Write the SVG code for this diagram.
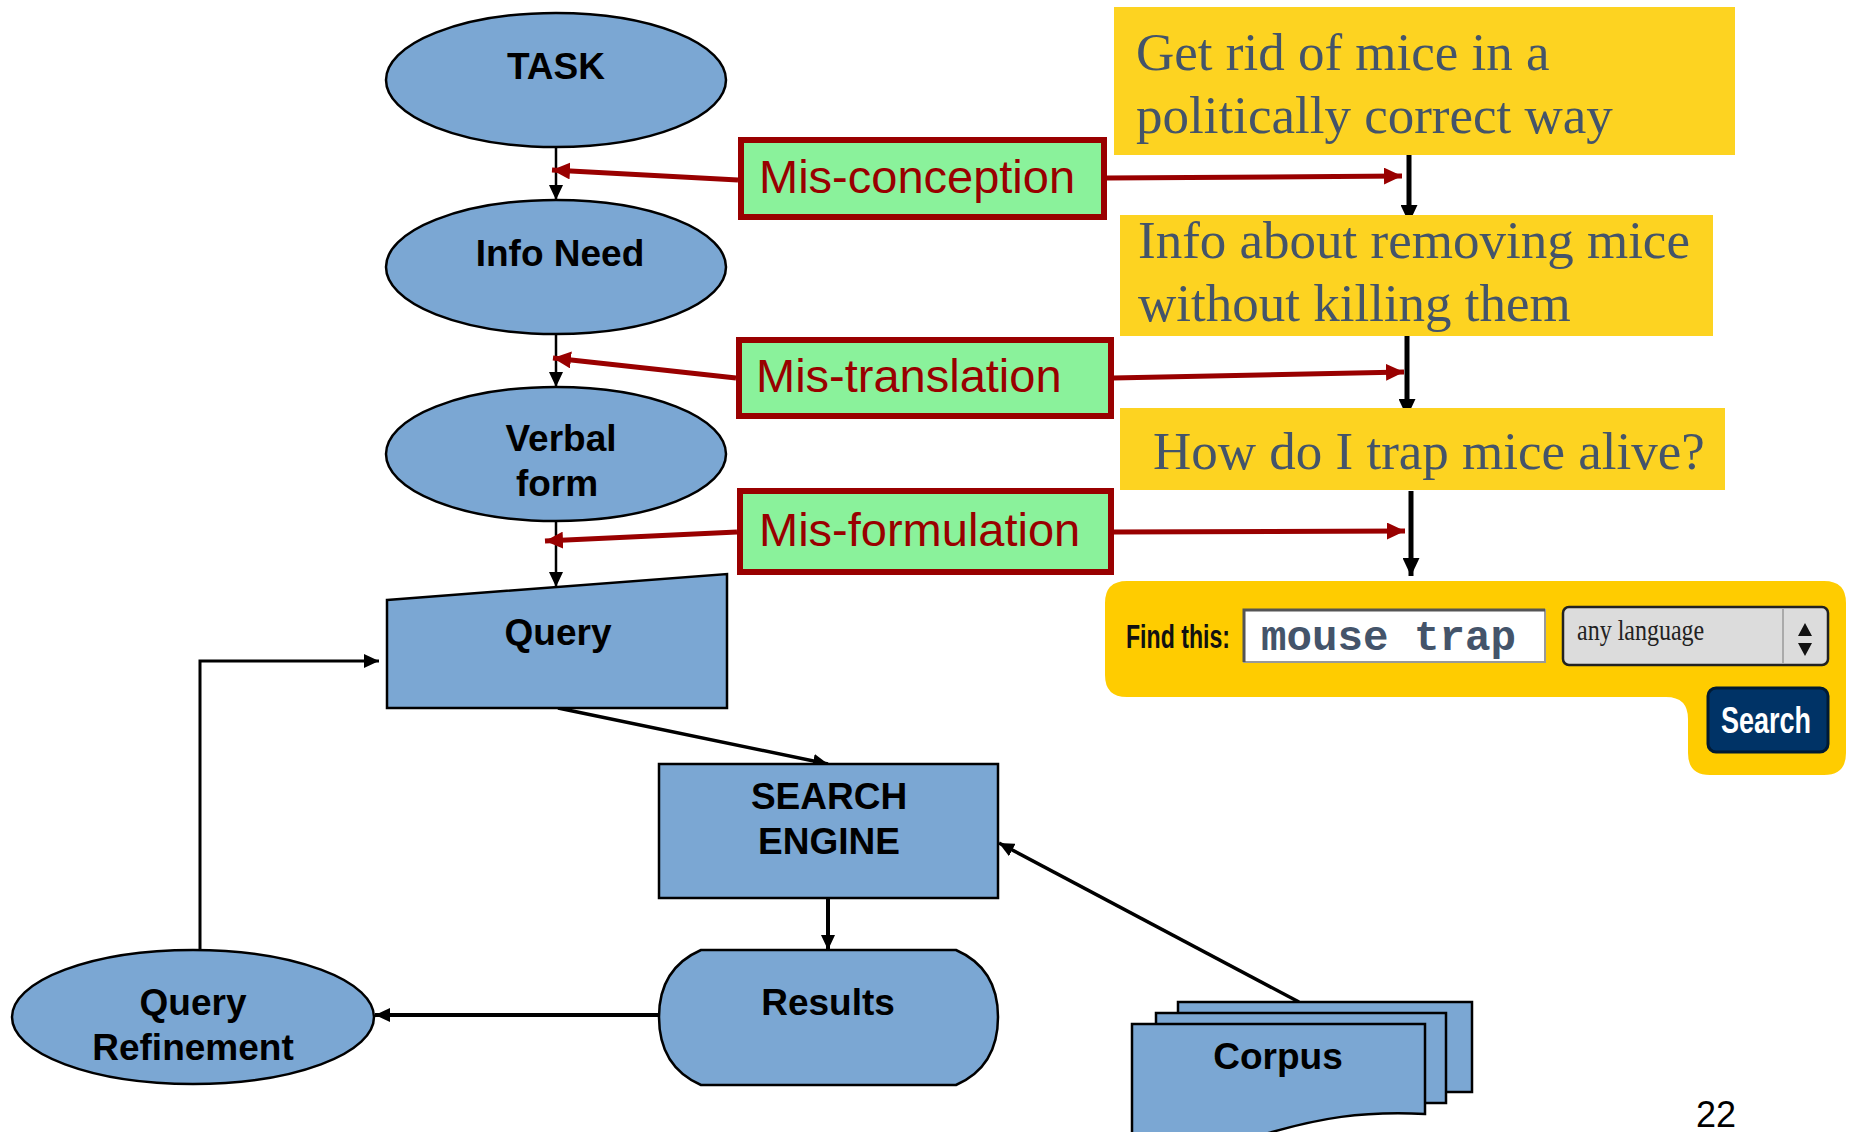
<svg xmlns="http://www.w3.org/2000/svg" width="1852" height="1132" viewBox="0 0 1852 1132">
<style>
.node{fill:#7ba7d3;stroke:#000;stroke-width:2.5}
.lbl{font-family:"Liberation Sans",Arial,sans-serif;font-weight:bold;font-size:37px;fill:#000;text-anchor:middle}
.mis{fill:#8af29b;stroke:#990000;stroke-width:6}
.mist{font-family:"Liberation Sans",Arial,sans-serif;font-size:47px;fill:#990000}
.yb{fill:#fdd321}
.yt{font-family:"Liberation Serif","Times New Roman",serif;font-size:53px;fill:#44546a}
.blk{fill:none;stroke:#000}
.red{fill:none;stroke:#990000;stroke-width:5}
</style>
<defs>
<marker id="as" viewBox="0 0 15 14" refX="15" refY="7" markerWidth="15" markerHeight="14" markerUnits="userSpaceOnUse" orient="auto"><path d="M0,0 L15,7 L0,14 z" fill="#000"/></marker>
<marker id="am" viewBox="0 0 18 17" refX="18" refY="8.5" markerWidth="18" markerHeight="17" markerUnits="userSpaceOnUse" orient="auto"><path d="M0,0 L18,8.5 L0,17 z" fill="#000"/></marker>
<marker id="ar" viewBox="0 0 18 17" refX="18" refY="8.5" markerWidth="18" markerHeight="17" markerUnits="userSpaceOnUse" orient="auto"><path d="M0,0 L18,8.5 L0,17 z" fill="#990000"/></marker>
</defs>

<g id="connectors">
<line class="blk" stroke-width="2.5" x1="556" y1="148" x2="556" y2="200" marker-end="url(#as)"/>
<line class="blk" stroke-width="2.5" x1="556" y1="334" x2="556" y2="387" marker-end="url(#as)"/>
<line class="blk" stroke-width="2.5" x1="556" y1="521" x2="556" y2="587" marker-end="url(#as)"/>
<line class="red" x1="738" y1="180" x2="552" y2="170" marker-end="url(#ar)"/>
<line class="red" x1="1107" y1="178" x2="1402" y2="176" marker-end="url(#ar)"/>
<line class="red" x1="736" y1="378" x2="553" y2="358" marker-end="url(#ar)"/>
<line class="red" x1="1113" y1="378" x2="1404" y2="372" marker-end="url(#ar)"/>
<line class="red" x1="737" y1="532" x2="545" y2="541" marker-end="url(#ar)"/>
<line class="red" x1="1114" y1="532" x2="1405" y2="531" marker-end="url(#ar)"/>
<line class="blk" stroke-width="5" x1="1409" y1="151" x2="1409" y2="223" marker-end="url(#am)"/>
<line class="blk" stroke-width="5" x1="1407" y1="332" x2="1407" y2="417" marker-end="url(#am)"/>
<line class="blk" stroke-width="5" x1="1411" y1="491" x2="1411" y2="576" marker-end="url(#am)"/>
<line class="blk" stroke-width="3.5" x1="558" y1="708" x2="828" y2="764" marker-end="url(#as)"/>
<line class="blk" stroke-width="4" x1="828" y1="898" x2="828" y2="950" marker-end="url(#as)"/>
<line class="blk" stroke-width="4" x1="659" y1="1015" x2="375" y2="1015" marker-end="url(#as)"/>
<polyline class="blk" stroke-width="3" points="200,951 200,661 379,661" marker-end="url(#as)"/>
<line class="blk" stroke-width="3.5" x1="1299" y1="1002" x2="999" y2="843" marker-end="url(#as)"/>
</g>

<g id="task"><ellipse class="node" cx="556" cy="80" rx="170" ry="67"/><text class="lbl" x="556" y="79">TASK</text></g>
<g id="info-need"><ellipse class="node" cx="556" cy="267" rx="170" ry="67"/><text class="lbl" x="560" y="266">Info Need</text></g>
<g id="verbal-form"><ellipse class="node" cx="556" cy="454" rx="170" ry="67"/><text class="lbl" x="561" y="451">Verbal</text><text class="lbl" x="557" y="496">form</text></g>
<g id="query"><path class="node" d="M387,600 L727,574 L727,708 L387,708 Z"/><text class="lbl" x="558" y="645">Query</text></g>
<g id="search-engine"><rect class="node" x="659" y="764" width="339" height="134"/><text class="lbl" x="829" y="809">SEARCH</text><text class="lbl" x="829" y="854">ENGINE</text></g>
<g id="results"><path class="node" d="M701,950 H956 C988,964 998,990 998,1017 C998,1045 988,1071 956,1085 H701 C669,1071 659,1045 659,1017 C659,990 669,964 701,950 Z"/><text class="lbl" x="828" y="1015">Results</text></g>
<g id="query-refinement"><ellipse class="node" cx="193" cy="1017" rx="181" ry="67"/><text class="lbl" x="193" y="1015">Query</text><text class="lbl" x="193" y="1060">Refinement</text></g>
<g id="corpus">
<rect class="node" x="1178" y="1002" width="294" height="90"/>
<rect class="node" x="1156" y="1013" width="290" height="90"/>
<path class="node" d="M1132,1024 H1425 V1114 C1360,1111 1320,1118 1265,1134 L1132,1140 Z"/>
<text class="lbl" x="1278" y="1069">Corpus</text>
</g>

<g id="mis-conception"><rect class="mis" x="741" y="140" width="363" height="77"/><text class="mist" x="759" y="193">Mis-conception</text></g>
<g id="mis-translation"><rect class="mis" x="739" y="340" width="372" height="76"/><text class="mist" x="756" y="392">Mis-translation</text></g>
<g id="mis-formulation"><rect class="mis" x="740" y="491" width="371" height="81"/><text class="mist" x="759" y="546">Mis-formulation</text></g>

<g id="goal-task"><rect class="yb" x="1114" y="7" width="621" height="148"/><text class="yt" x="1136" y="70">Get rid of mice in a</text><text class="yt" x="1136" y="133">politically correct way</text></g>
<g id="goal-info"><rect class="yb" x="1120" y="215" width="593" height="121"/><text class="yt" x="1138" y="258">Info about removing mice</text><text class="yt" x="1138" y="321">without killing them</text></g>
<g id="goal-verbal"><rect class="yb" x="1120" y="408" width="605" height="82"/><text class="yt" x="1153" y="469">How do I trap mice alive?</text></g>

<g id="search-widget">
<path fill="#ffcc00" d="M1127,581 H1824 Q1846,581 1846,603 V753 Q1846,775 1824,775 H1710 Q1688,775 1688,753 V719 Q1688,697 1666,697 H1127 Q1105,697 1105,675 V603 Q1105,581 1127,581 Z"/>
<text transform="translate(1126,648) scale(0.68,1)" font-family="'Liberation Sans',Arial,sans-serif" font-weight="bold" font-size="34" fill="#111">Find this:</text>
<rect x="1244" y="610" width="301" height="52" fill="#fff" stroke="#999" stroke-width="2"/>
<path d="M1244,662 V610 H1545" fill="none" stroke="#555" stroke-width="3"/>
<text x="1261" y="650" font-family="'Liberation Mono','Courier New',monospace" font-weight="bold" font-size="42" fill="#44546a" textLength="255" lengthAdjust="spacingAndGlyphs">mouse trap</text>
<rect x="1563" y="607" width="265" height="58" rx="6" fill="#dcdcdc" stroke="#222" stroke-width="2.5"/>
<line x1="1783" y1="609" x2="1783" y2="663" stroke="#aaa" stroke-width="2"/>
<text transform="translate(1577,640) scale(0.8,1)" font-family="'Liberation Serif','Times New Roman',serif" font-size="30" fill="#222">any language</text>
<path d="M1798,636 L1805,623 L1812,636 Z M1798,643 L1805,656 L1812,643 Z" fill="#111"/>
<rect x="1708" y="688" width="120" height="64" rx="8" fill="#003366" stroke="#001a33" stroke-width="3"/>
<text transform="translate(1721,733) scale(0.75,1)" font-family="'Liberation Sans',Arial,sans-serif" font-weight="bold" font-size="36" fill="#fff">Search</text>
</g>

<text x="1716" y="1127" font-family="'Liberation Sans',Arial,sans-serif" font-size="36" fill="#000" text-anchor="middle">22</text>
</svg>
